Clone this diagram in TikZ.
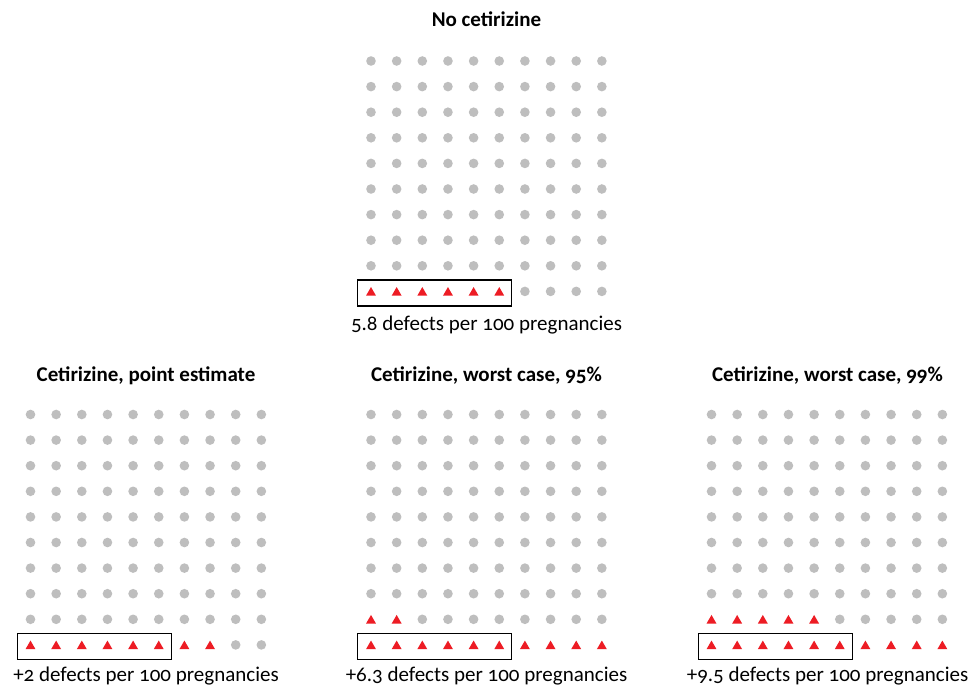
\documentclass[tikz,border=0pt]{standalone}
\usepackage{fontspec}
\setmainfont{Carlito}[Numbers=OldStyle]
\usetikzlibrary{shapes.geometric,fit}
\definecolor{dotgray}{RGB}{190,190,190}
\definecolor{trired}{RGB}{237,28,36}
\tikzset{
  dotnode/.style={circle,fill=dotgray,inner sep=0pt,minimum size=9.6pt},
  trinode/.style={regular polygon,regular polygon sides=3,fill=trired,inner sep=0pt,minimum size=11.5pt,yshift=-1.4pt},
  boxnode/.style={draw=black,line width=1.4pt,inner sep=0pt},
  titlenode/.style={anchor=base,font=\fontsize{21}{24}\selectfont\bfseries},
  labelnode/.style={anchor=base,font=\fontsize{21}{24}\selectfont},
}
\newcommand{\waffle}[5]{% name, x0, y0, triangles in bottom row, triangles in row 9
  \foreach \r in {1,...,10}{
    \foreach \c in {1,...,10}{
      \pgfmathsetmacro{\px}{#2+(\c-1)*25.65}
      \pgfmathsetmacro{\py}{#3+(\r-1)*25.6}
      \ifnum\r=10
        \ifnum\c>#4
          \node[dotnode] (#1-\r-\c) at (\px,\py) {};
        \else
          \node[trinode] (#1-\r-\c) at (\px,\py) {};
        \fi
      \else\ifnum\r=9
        \ifnum\c>#5
          \node[dotnode] (#1-\r-\c) at (\px,\py) {};
        \else
          \node[trinode] (#1-\r-\c) at (\px,\py) {};
        \fi
      \else
        \node[dotnode] (#1-\r-\c) at (\px,\py) {};
      \fi\fi
    }
  }
  \coordinate (#1-bl) at ($(#2,#3)+(-13.3,9*25.6-12.8)$);
}
\usetikzlibrary{calc}
\begin{document}
\begin{tikzpicture}[x=1pt,y=-1pt]
\useasboundingbox (0,0) rectangle (973,685);
\fill[white] (0,0) rectangle (973,685);
% top
\node[titlenode] (t0) at (486.5,27) {No cetirizine};
\waffle{A}{371}{61}{6}{0}
\node[boxnode,fit={($(A-10-1.center)+(-13.3,-12.8)$) ($(A-10-6.center)+(12.5,13)$)}] (boxA) {};
\node[labelnode] (lA) at (486.5,330) {5.8 defects per 100 pregnancies};
% bottom left
\node[titlenode] (t1) at (146,381) {Cetirizine, point estimate};
\waffle{B}{30.5}{414.5}{8}{0}
\node[boxnode,fit={($(B-10-1.center)+(-13.3,-12.8)$) ($(B-10-6.center)+(12.5,13)$)}] (boxB) {};
\node[labelnode] (lB) at (146,681) {+2 defects per 100 pregnancies};
% bottom middle
\node[titlenode] (t2) at (486.5,381) {Cetirizine, worst case, 95\%};
\waffle{C}{371}{414.5}{10}{2}
\node[boxnode,fit={($(C-10-1.center)+(-13.3,-12.8)$) ($(C-10-6.center)+(12.5,13)$)}] (boxC) {};
\node[labelnode] (lC) at (486.5,681) {+6.3 defects per 100 pregnancies};
% bottom right
\node[titlenode] (t3) at (827.5,381) {Cetirizine, worst case, 99\%};
\waffle{D}{711.5}{414.5}{10}{5}
\node[boxnode,fit={($(D-10-1.center)+(-13.3,-12.8)$) ($(D-10-6.center)+(12.5,13)$)}] (boxD) {};
\node[labelnode] (lD) at (827.5,681) {+9.5 defects per 100 pregnancies};
\end{tikzpicture}
\end{document}
